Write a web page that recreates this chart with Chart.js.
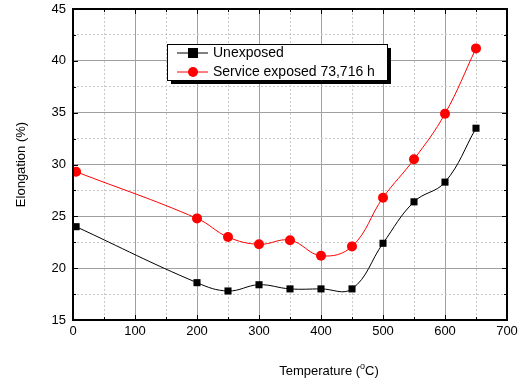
<!DOCTYPE html>
<html>
<head>
<meta charset="utf-8">
<script src="https://cdn.jsdelivr.net/npm/chart.js@4.4.0/dist/chart.umd.min.js"></script>
<style>
  body { margin: 0; background: #fff; }
  #wrap { width: 521px; height: 382px; }
</style>
</head>
<body>
<div id="wrap"><canvas id="chart" width="521" height="382"></canvas></div>
<script>
// temperatures (°C)
let temps = [5, 200, 250, 300, 350, 400, 450, 500, 550, 600, 650];
// elongation (%)
let unexposed = [24.0, 18.6, 17.8, 18.4, 18.0, 18.0, 18.0, 22.4, 26.4, 28.3, 33.5];
let serviceExposed = [29.3, 24.8, 23.0, 22.3, 22.7, 21.2, 22.1, 26.8, 30.5, 34.9, 41.2];
let legendLabels = ['Unexposed', 'Service exposed 73,716 h'];

let font = 'Liberation Sans, Arial, sans-serif';

function toPoints(ys) {
  return temps.map((t, i) => ({ x: t, y: ys[i] }));
}

// frame, inward ticks, legend box and x title
let decorations = {
  id: 'decorations',
  afterDraw(chart) {
    let ctx = chart.ctx;
    let a = chart.chartArea;
    let xs = chart.scales.x, ys = chart.scales.y;
    ctx.save();
    ctx.strokeStyle = '#000';
    ctx.lineWidth = 1;
    for (let v = 0; v <= 700; v += 50) {
      let px = Math.round(xs.getPixelForValue(v)) + 0.5;
      let len = v % 100 === 0 ? 5 : 3;
      ctx.beginPath();
      ctx.moveTo(px, a.bottom); ctx.lineTo(px, a.bottom - len);
      ctx.moveTo(px, a.top); ctx.lineTo(px, a.top + len);
      ctx.stroke();
    }
    for (let v = 15; v <= 45; v += 2.5) {
      let py = Math.round(ys.getPixelForValue(v)) + 0.5;
      let len = v % 5 === 0 ? 5 : 3;
      ctx.beginPath();
      ctx.moveTo(a.left, py); ctx.lineTo(a.left + len, py);
      ctx.moveTo(a.right, py); ctx.lineTo(a.right - len, py);
      ctx.stroke();
    }
    ctx.lineWidth = 2;
    ctx.strokeRect(a.left, a.top, a.right - a.left, a.bottom - a.top);

    // legend
    let bx = 167, by = 44, bw = 220, bh = 36;
    ctx.fillStyle = '#000';
    ctx.fillRect(bx + 4, by + 4, bw, bh);
    ctx.fillStyle = '#fff';
    ctx.fillRect(bx, by, bw, bh);
    ctx.lineWidth = 1;
    ctx.strokeRect(bx + 0.5, by + 0.5, bw, bh);
    let rows = [53, 72];
    chart.data.datasets.forEach((ds, i) => {
      let y = rows[i];
      ctx.strokeStyle = ds.borderColor;
      ctx.beginPath();
      ctx.moveTo(177, y); ctx.lineTo(208, y);
      ctx.stroke();
      ctx.fillStyle = ds.pointBackgroundColor;
      if (i === 0) {
        ctx.fillRect(188, y - 5, 10, 10);
      } else {
        ctx.beginPath();
        ctx.arc(193, y, 5, 0, Math.PI * 2);
        ctx.fill();
      }
      ctx.fillStyle = '#000';
      ctx.font = '14px ' + font;
      ctx.textBaseline = 'middle';
      ctx.textAlign = 'left';
      ctx.fillText(legendLabels[i], 213, y);
    });

    // x title with superscript degree
    ctx.fillStyle = '#000';
    ctx.textBaseline = 'alphabetic';
    ctx.textAlign = 'left';
    let p1 = 'Temperature (', p2 = 'o', p3 = 'C)';
    ctx.font = '13px ' + font;
    let w1 = ctx.measureText(p1).width, w3 = ctx.measureText(p3).width;
    ctx.font = '9px ' + font;
    let w2 = ctx.measureText(p2).width;
    let start = 329 - (w1 + w2 + w3) / 2;
    let base = 375;
    ctx.font = '13px ' + font;
    ctx.fillText(p1, start, base);
    ctx.font = '9px ' + font;
    ctx.fillText(p2, start + w1, base - 6);
    ctx.font = '13px ' + font;
    ctx.fillText(p3, start + w1 + w2, base);
    ctx.restore();
  }
};

new Chart(document.getElementById('chart').getContext('2d'), {
  type: 'line',
  data: {
    datasets: [{
      label: legendLabels[0],
      data: toPoints(unexposed),
      borderColor: '#000',
      backgroundColor: '#000',
      pointBackgroundColor: '#000',
      pointBorderColor: '#000',
      pointStyle: 'rect',
      pointRadius: 5,
      pointBorderWidth: 0,
      borderWidth: 1,
      tension: 0.4,
      fill: false,
    }, {
      label: legendLabels[1],
      data: toPoints(serviceExposed),
      borderColor: '#ff0000',
      backgroundColor: '#ff0000',
      pointBackgroundColor: '#ff0000',
      pointBorderColor: '#ff0000',
      pointStyle: 'circle',
      pointRadius: 5,
      pointBorderWidth: 0,
      borderWidth: 1,
      tension: 0.4,
      fill: false,
    }]
  },
  options: {
    responsive: false,
    animation: false,
    layout: { padding: { top: 9, right: 14, left: 14, bottom: 0 } },
    plugins: {
      legend: { display: false },
      tooltip: { enabled: false },
    },
    scales: {
      x: {
        type: 'linear',
        min: 0,
        max: 700,
        ticks: {
          stepSize: 50,
          autoSkip: false,
          maxRotation: 0,
          color: '#000',
          font: { family: font, size: 13 },
          padding: 4,
          callback: (v) => v % 100 === 0 ? v : '',
        },
        grid: {
          drawTicks: false,
          color: (c) => c.tick && c.tick.value % 100 === 0 ? '#a0a0a0' : '#c8c8c8',
          lineWidth: 1,
        },
        border: {
          display: false,
          dash: (c) => c.tick && c.tick.value % 100 === 0 ? [] : [2, 2],
        },
        afterFit: (s) => { s.height = 62; s.paddingLeft = 0; s.paddingRight = 0; },
      },
      y: {
        min: 15,
        max: 45,
        ticks: {
          stepSize: 2.5,
          autoSkip: false,
          color: '#000',
          font: { family: font, size: 13 },
          padding: 7,
          callback: (v) => v % 5 === 0 ? v : '',
        },
        grid: {
          drawTicks: false,
          color: (c) => c.tick && c.tick.value % 5 === 0 ? '#a0a0a0' : '#c8c8c8',
          lineWidth: 1,
        },
        border: {
          display: false,
          dash: (c) => c.tick && c.tick.value % 5 === 0 ? [] : [2, 2],
        },
        title: {
          display: true,
          text: 'Elongation (%)',
          color: '#000',
          font: { family: font, size: 13 },
          padding: { top: 0, bottom: 20 },
        },
        afterFit: (s) => { s.width = 59; s.paddingTop = 0; s.paddingBottom = 0; },
      }
    }
  },
  plugins: [decorations]
});
</script>
</body>
</html>
